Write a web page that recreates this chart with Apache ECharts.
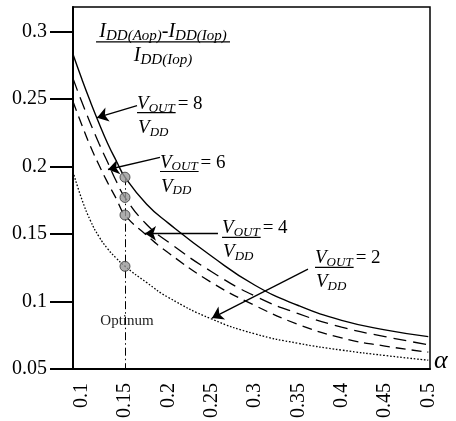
<!DOCTYPE html>
<html>
<head>
<meta charset="utf-8">
<script src="https://cdn.jsdelivr.net/npm/echarts@6/dist/echarts.min.js"></script>
<style>
html, body { margin: 0; padding: 0; background: #fff; }
#chart { width: 456px; height: 421px; }
</style>
</head>
<body>
<div id="chart"></div>
<script>
// Supply-current overhead (I_DD(Aop) - I_DD(Iop)) / I_DD(Iop) versus alpha,
// one curve per output/supply voltage ratio.
const alpha  = [0.09, 0.10, 0.11, 0.12, 0.13, 0.14, 0.15, 0.175, 0.20, 0.25, 0.30, 0.35, 0.40, 0.45, 0.50];
const ratio8 = [0.283, 0.265, 0.248, 0.232, 0.217, 0.204, 0.192, 0.172, 0.158, 0.1335, 0.112, 0.097, 0.086, 0.079, 0.074];
const ratio6 = [0.265, 0.248, 0.232, 0.217, 0.203, 0.189, 0.177, 0.157, 0.144, 0.122, 0.104, 0.091, 0.081, 0.074, 0.068];
const ratio4 = [0.248, 0.231, 0.215, 0.201, 0.188, 0.176, 0.164, 0.149, 0.136, 0.114, 0.097, 0.083, 0.073, 0.067, 0.0625];
const ratio2 = [0.196, 0.176, 0.160, 0.148, 0.139, 0.132, 0.126, 0.114, 0.103, 0.087, 0.076, 0.069, 0.064, 0.060, 0.0565];
const ratioNames = ['8', '6', '4', '2'];
const xTicks = [0.1, 0.15, 0.2, 0.25, 0.3, 0.35, 0.4, 0.45, 0.5];
const yTicks = [0.05, 0.1, 0.15, 0.2, 0.25, 0.3];
const optimumAlpha = 0.15;
const optimumLabel = 'Optinum';

const serif = '"Liberation Serif", "Times New Roman", Times, serif';
const chart = echarts.init(document.getElementById('chart'));

const pairs = ys => alpha.map((a, i) => [a, ys[i]]);
const iOpt = alpha.indexOf(optimumAlpha);
const curves = [ratio8, ratio6, ratio4, ratio2];
const optimumPoints = curves.map(c => [optimumAlpha, c[iOpt]]);
const optTop = Math.max(...optimumPoints.map(p => p[1]));

// line look per curve: solid, long dash, short dash, dotted
const looks = [
  { type: 'solid', width: 1.4 },
  { type: [13, 7], width: 1.3 },
  { type: [10, 6], width: 1.3 },
  { type: [1.6, 1.8], width: 1.3 }
];

// arrows pointing from each label to its curve (data coordinates)
const arrows = [
  [[0.1639, 0.2450], [0.1177, 0.2361]],
  [[0.1904, 0.2066], [0.1304, 0.1977]],
  [[0.2573, 0.1504], [0.1731, 0.1504]],
  [[0.3612, 0.1239], [0.2504, 0.0877]]
];
// left end of each label's fraction bar (data coordinates)
const labelAnchors = [[0.1639, 0.2398], [0.1904, 0.1962], [0.2620, 0.1475], [0.3693, 0.1253]];
const titleAnchor = [0.1939, 0.2922];
const optimumTextAnchor = [0.1523, 0.0855];

const series = curves.map((c, k) => ({
  name: ratioNames[k],
  type: 'line',
  data: pairs(c),
  smooth: 0.5,
  symbol: 'none',
  silent: true,
  lineStyle: { color: '#000', width: looks[k].width, type: looks[k].type }
}));

series.push({
  name: 'optimum',
  type: 'scatter',
  data: optimumPoints,
  symbol: 'circle',
  symbolSize: 10,
  z: 5,
  silent: true,
  itemStyle: { color: '#999', borderColor: '#333', borderWidth: 1 },
  markLine: {
    silent: true,
    symbol: 'none',
    label: { show: false },
    lineStyle: { color: '#000', width: 1, type: [8, 3, 1.5, 3] },
    data: [[{ coord: [optimumAlpha, optTop] }, { coord: [optimumAlpha, yTicks[0]] }]]
  }
});

series.push({
  name: 'arrows',
  type: 'line',
  data: [],
  markLine: {
    silent: true,
    symbol: ['none', 'arrow'],
    symbolSize: 11,
    label: { show: false },
    itemStyle: { color: '#000' },
    lineStyle: { color: '#000', width: 1.3, type: 'solid' },
    data: arrows.map(a => [{ coord: a[0] }, { coord: a[1] }])
  }
});

chart.setOption({
  animation: false,
  grid: { left: 73, right: 26, top: 7, bottom: 51, show: true, borderColor: '#000', borderWidth: 1.5 },
  xAxis: {
    type: 'value',
    min: 0.09, max: 0.502,
    axisLine: { onZero: false, lineStyle: { color: '#000', width: 2 } },
    axisTick: { show: false },
    splitLine: { show: false },
    axisLabel: {
      customValues: xTicks,
      rotate: 90, margin: 14, color: '#000', fontFamily: serif, fontSize: 20,
      formatter: v => String(+v.toFixed(2))
    }
  },
  yAxis: {
    type: 'value',
    min: 0.05, max: 0.318,
    axisLine: { show: true, lineStyle: { color: '#000', width: 2 } },
    axisTick: { show: true, length: 23, customValues: yTicks, lineStyle: { color: '#000', width: 2 } },
    splitLine: { show: false },
    axisLabel: {
      customValues: yTicks,
      margin: 26, color: '#000', fontFamily: serif, fontSize: 20,
      formatter: v => String(+v.toFixed(2))
    }
  },
  series: series
});

// ---- text annotations ----
const toPx = p => chart.convertToPixel({ gridIndex: 0 }, p);
const ctx = document.createElement('canvas').getContext('2d');
const measure = (t, size, italic) => {
  ctx.font = (italic ? 'italic ' : '') + size + 'px ' + serif;
  return ctx.measureText(t).width;
};

const vRich = {
  v: { fontSize: 19, fontStyle: 'italic', fontFamily: serif, lineHeight: 22, fill: '#000' },
  s: { fontSize: 13, fontStyle: 'italic', fontFamily: serif, lineHeight: 13, verticalAlign: 'bottom', fill: '#000' }
};
const iRich = {
  i: { fontSize: 20, fontStyle: 'italic', fontFamily: serif, lineHeight: 24, fill: '#000' },
  s: { fontSize: 15, fontStyle: 'italic', fontFamily: serif, lineHeight: 15, verticalAlign: 'bottom', fill: '#000' }
};

const graphics = [];

labelAnchors.forEach((a, k) => {
  const [x, y] = toPx(a);
  const numW = measure('V', 19, true) + measure('OUT', 13, true);
  graphics.push(
    { type: 'text', x: x, y: y - 9, silent: true,
      style: { text: '{v|V}{s|OUT}', rich: vRich, align: 'left', verticalAlign: 'middle' } },
    { type: 'text', x: x + numW + 3, y: y - 9, silent: true,
      style: { text: '= ' + ratioNames[k], fontSize: 19, fontFamily: serif, fill: '#000', align: 'left', verticalAlign: 'middle' } },
    { type: 'line', silent: true, shape: { x1: x, y1: y, x2: x + numW + 1, y2: y },
      style: { stroke: '#000', lineWidth: 1.2 } },
    { type: 'text', x: x + 1, y: y + 15, silent: true,
      style: { text: '{v|V}{s|DD}', rich: vRich, align: 'left', verticalAlign: 'middle' } }
  );
});

(() => {
  const [cx, y] = toPx(titleAnchor);
  graphics.push(
    { type: 'text', x: cx, y: y - 10, silent: true,
      style: { text: '{i|I}{s|DD(Aop)}{i|-I}{s|DD(Iop)}', rich: iRich, align: 'center', verticalAlign: 'middle' } },
    { type: 'line', silent: true, shape: { x1: cx - 67, y1: y, x2: cx + 67, y2: y },
      style: { stroke: '#000', lineWidth: 1.3 } },
    { type: 'text', x: cx, y: y + 14, silent: true,
      style: { text: '{i|I}{s|DD(Iop)}', rich: iRich, align: 'center', verticalAlign: 'middle' } }
  );
})();

(() => {
  const [x, y] = toPx(optimumTextAnchor);
  graphics.push({ type: 'text', x: x, y: y, silent: true,
    style: { text: optimumLabel, fontSize: 15, fontFamily: serif, fill: '#222', align: 'center', verticalAlign: 'middle' } });
})();

(() => {
  const [x, y] = toPx([0.502, yTicks[0]]);
  graphics.push({ type: 'text', x: x + 4, y: y - 8, silent: true,
    style: { text: 'α', fontSize: 26, fontStyle: 'italic', fontFamily: serif, fill: '#000', align: 'left', verticalAlign: 'middle' } });
})();

chart.setOption({ graphic: graphics });
</script>
</body>
</html>
